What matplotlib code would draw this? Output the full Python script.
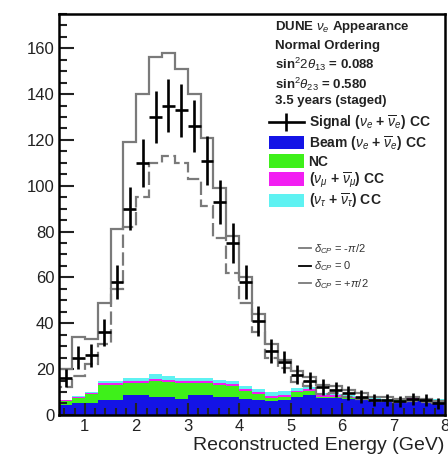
import numpy as np
import matplotlib
matplotlib.use("Agg")
import matplotlib.pyplot as plt
from matplotlib.patches import Patch
from matplotlib.lines import Line2D

plt.rcParams['font.family'] = ['Liberation Sans', 'DejaVu Sans']
plt.rcParams['mathtext.fontset'] = 'custom'
plt.rcParams['mathtext.rm'] = 'Liberation Sans'
plt.rcParams['mathtext.it'] = 'Liberation Sans:italic'
plt.rcParams['mathtext.bf'] = 'Liberation Sans:bold'

# 0.25 GeV bins from 0.5 to 8 GeV
edges = np.arange(0.5, 8.01, 0.25)

# total expected events (signal + background) per bin
total_dcp0 = [16, 25, 26, 36, 58, 90, 110, 130, 135, 133, 126, 111, 93, 75, 58,
              41, 28, 23, 17.5, 15, 12, 11, 9.5, 8, 6.5, 6.5, 6, 7, 6.5, 5]
total_dcp_minus = [20, 34, 33, 49, 81, 119, 140, 156, 158, 151, 140, 121, 99, 78, 60,
                   44, 31, 24, 19, 16.5, 13, 12.5, 11, 9.5, 8, 8, 7, 8, 7, 6]
total_dcp_plus = [12, 17, 22, 31, 55, 82, 95, 110, 113, 110, 103, 91, 77, 62, 49,
                  36, 25, 20.5, 14.5, 12.7, 9, 9.5, 8, 7, 6, 6, 5.5, 6, 5.5, 5]

# background components
beam_nue = [4.5, 5, 5, 6.5, 6.5, 8.5, 8.5, 8, 8, 7, 8.5, 8.5, 8, 8, 7,
            6.5, 6, 6.5, 8, 8.5, 7.5, 7.5, 7, 6.5, 6, 6, 6, 6.5, 6, 6]
nc = [1.5, 2.5, 4, 6.5, 6.5, 5.5, 5.5, 7, 6.5, 7, 5.5, 5.5, 5, 4.5, 3.5,
      2.5, 1.5, 1.5, 2, 2, 0.5, 0.5, 0.5, 0.5, 0.5, 0.3, 0.3, 0.3, 0.3, 0.3]
numu_cc = [0.3, 0.4, 0.5, 0.8, 0.8, 0.8, 0.8, 0.8, 0.8, 0.8, 0.8, 0.8, 0.8, 0.8, 0.8,
           0.8, 0.8, 0.8, 0.6, 0.6, 0.6, 0.5, 0.5, 0.5, 0.4, 0.4, 0.4, 0.4, 0.3, 0.3]
nutau_cc = [0.2, 0.3, 0.5, 0.8, 1.0, 1.5, 1.5, 2.0, 1.5, 1.5, 1.5, 1.5, 1.5, 1.5, 1.5,
            1.5, 1.5, 1.5, 1.2, 1.0, 1.0, 0.8, 0.6, 0.5, 0.4, 0.4, 0.3, 0.3, 0.3, 0.3]

c_beam = "#1414e6"
c_nc = "#3ef01a"
c_numu = "#f21ef2"
c_nutau = "#5ef2f2"
c_gray = "#7a7a7a"

fig = plt.figure(figsize=(4.48, 4.62), dpi=100)
ax = fig.add_axes([0.132, 0.102, 0.861, 0.868])

# stacked backgrounds
b0 = np.zeros(len(beam_nue))
for vals, col in [(beam_nue, c_beam), (nc, c_nc), (numu_cc, c_numu), (nutau_cc, c_nutau)]:
    top = b0 + np.array(vals)
    ax.stairs(top, edges, baseline=b0, fill=True, color=col, lw=0, zorder=1)
    b0 = top

# delta_CP = -pi/2 and +pi/2 predictions
ax.stairs(total_dcp_minus, edges, color=c_gray, lw=1.6, zorder=2)
ax.stairs(total_dcp_plus, edges, color=c_gray, lw=1.6, ls=(0, (6, 2)), zorder=2)

# delta_CP = 0 with statistical error bars
centers = 0.5 * (edges[:-1] + edges[1:])
ax.errorbar(centers, total_dcp0, xerr=0.125, yerr=np.sqrt(total_dcp0),
            fmt='none', ecolor='black', elinewidth=1.9, capsize=0, zorder=3)

ax.set_xlim(0.5, 8)
ax.set_ylim(0, 175)
ax.set_xticks(range(1, 9))
ax.set_xticks(np.arange(0.6, 8.01, 0.2), minor=True)
ax.set_yticks(range(0, 161, 20))
ax.set_yticks(range(0, 176, 5), minor=True)
ax.tick_params(axis='both', which='both', direction='in', top=False, right=False,
               labelsize=12, width=1.5, colors='#222222')
ax.tick_params(axis='y', which='major', length=11)
ax.tick_params(axis='y', which='minor', length=6)
ax.tick_params(axis='x', which='major', length=9)
ax.tick_params(axis='x', which='minor', length=5)
ax.tick_params(axis='x', pad=3)
for s in ax.spines.values():
    s.set_linewidth(1.8)

ax.set_xlabel("Reconstructed Energy (GeV)", fontsize=14, color='#222222')
ax.xaxis.set_label_coords(1.0, -0.055)
ax.xaxis.label.set_horizontalalignment('right')

# header text
header = ["DUNE $\\nu_e$ Appearance", "Normal Ordering",
          "sin$^2 2\\theta_{13}$ = 0.088", "sin$^2\\theta_{23}$ = 0.580",
          "3.5 years (staged)"]
header_y = [27, 46, 64, 84, 101]
for txt, yy in zip(header, header_y):
    fig.text(275 / 448, 1 - yy / 462, txt, fontsize=9.5, fontweight='bold',
             color='#222222', va='center', ha='left')

# component legend
handles = [Line2D([0], [0], color='black', lw=1.9, marker='|', markersize=13,
                  markeredgewidth=1.9),
           Patch(facecolor=c_beam, edgecolor='none'),
           Patch(facecolor=c_nc, edgecolor='none'),
           Patch(facecolor=c_numu, edgecolor='none'),
           Patch(facecolor=c_nutau, edgecolor='none')]
labels = ["Signal ($\\nu_e$ + $\\overline{\\nu}_e$) CC",
          "Beam ($\\nu_e$ + $\\overline{\\nu}_e$) CC",
          "NC",
          "($\\nu_\\mu$ + $\\overline{\\nu}_\\mu$) CC",
          "($\\nu_\\tau$ + $\\overline{\\nu}_\\tau$) CC"]
leg1 = fig.legend(handles, labels, loc='upper left',
                  bbox_to_anchor=(269 / 448, 1 - 114 / 462),
                  frameon=False, fontsize=10, handlelength=2.5, handleheight=1.1,
                  handletextpad=0.35, labelspacing=0.12, borderpad=0,
                  borderaxespad=0)
for t in leg1.get_texts():
    t.set_fontweight('bold')
    t.set_color('#222222')

# delta_CP legend
dcp_handles = [Line2D([0], [0], color=c_gray, lw=1.3),
               Line2D([0], [0], color='black', lw=1.3),
               Line2D([0], [0], color=c_gray, lw=1.3)]
dcp_labels = ["$\\delta_{CP}$ = -$\\pi$/2", "$\\delta_{CP}$ = 0",
              "$\\delta_{CP}$ = +$\\pi$/2"]
leg2 = fig.legend(dcp_handles, dcp_labels, loc='upper left',
                  bbox_to_anchor=(299 / 448, 1 - 242 / 462),
                  frameon=False, fontsize=8, handlelength=1.1,
                  handletextpad=0.25, labelspacing=0.35, borderpad=0,
                  borderaxespad=0)
for t in leg2.get_texts():
    t.set_color('#333333')

fig.savefig("out.png", dpi=100)
